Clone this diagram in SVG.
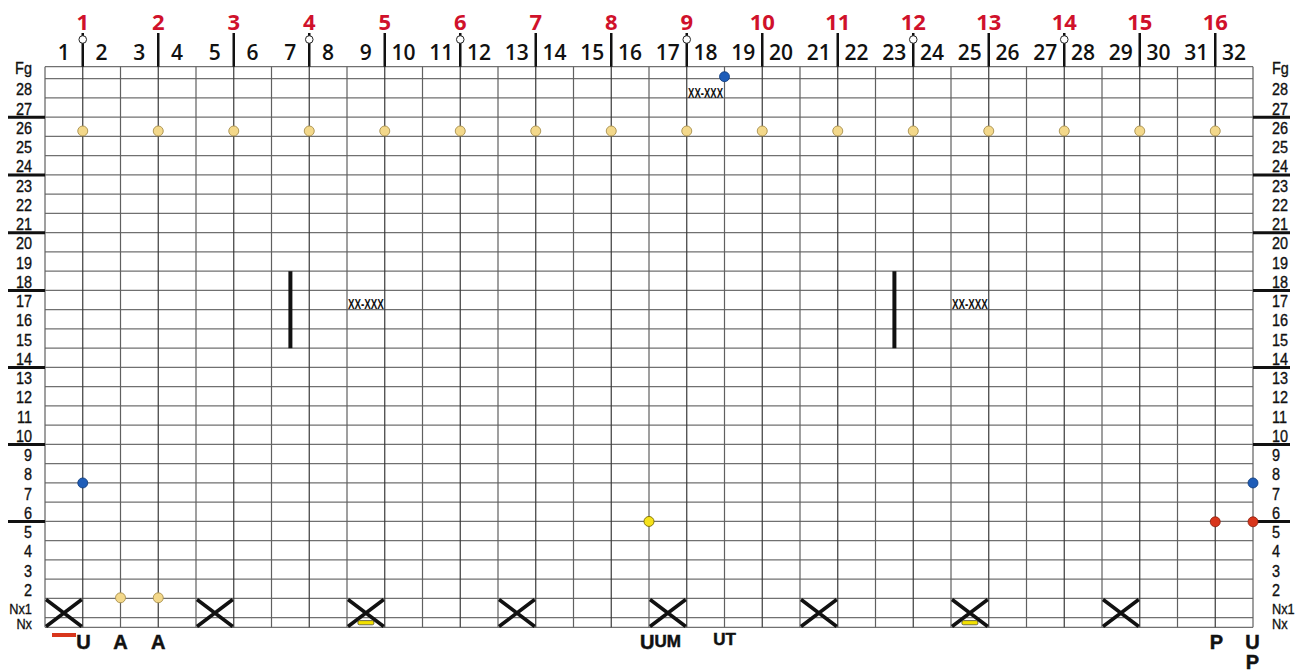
<svg xmlns="http://www.w3.org/2000/svg" width="1296" height="671" viewBox="0 0 1296 671">
<style>
.bg{fill:#ffffff}
.hl{stroke:#707070;stroke-width:1.3;fill:none}
.vl{stroke:#606060;stroke-width:1.2;fill:none}
.vm{stroke:#3a3a3a;stroke-width:1.2;fill:none}
.mk{stroke:#111;stroke-width:2.5;fill:none}
.tick{stroke:#111;stroke-width:3;fill:none}
.ring{fill:#fff;stroke:#222;stroke-width:1}
.col{font-family:"Open Sans","Liberation Sans",sans-serif;font-weight:600;font-size:21px;fill:#111;text-anchor:middle}
.red{font-family:"Open Sans","Liberation Sans",sans-serif;font-weight:700;font-size:22px;fill:#d0112b;text-anchor:middle}
.rl{font-family:"Liberation Sans",Arial,sans-serif;font-size:17px;fill:#111;stroke:#111;stroke-width:0.35}
.rs{font-size:15px}
.ydot{fill:#f3d88a;stroke:#a8904e;stroke-width:0.9}
.bdot{fill:#1f5db8;stroke:#0e3a7a;stroke-width:0.8}
.rdot{fill:#d8361c;stroke:#8a1e0c;stroke-width:0.8}
.sdot{fill:#f6e21a;stroke:#7a6c00;stroke-width:0.9}
.x{stroke:#111;stroke-width:3.5;fill:none}
.bar{stroke:#111;stroke-width:4;fill:none}
.ybar{fill:#f2e000;stroke:#333;stroke-width:0.7}
.code{font-family:"Liberation Sans",Arial,sans-serif;font-weight:700;font-size:15px;fill:#111;text-anchor:middle}
.bl{font-family:"Liberation Sans",Arial,sans-serif;font-weight:700;font-size:20px;fill:#111;stroke:#111;stroke-width:0.5;text-anchor:middle}
.bls{font-size:17px}
</style>
<rect class="bg" x="0" y="0" width="1296" height="671"/>

<g id="grid">
<path class="hl" d="M45 66.7H1253M45 78.7H1253M45 97.95H1253M45 117.2H1253M45 136.45H1253M45 155.7H1253M45 174.95H1253M45 194.2H1253M45 213.45H1253M45 232.7H1253M45 251.95H1253M45 271.2H1253M45 290.45H1253M45 309.7H1253M45 328.95H1253M45 348.2H1253M45 367.45H1253M45 386.7H1253M45 405.95H1253M45 425.2H1253M45 444.45H1253M45 463.7H1253M45 482.95H1253M45 502.2H1253M45 521.45H1253M45 540.7H1253M45 559.95H1253M45 579.2H1253M45 598.45H1253M45 617.7H1253M45 627.3H1253"/>
<path class="vl" d="M45 66.7V627.3M120.5 66.7V627.3M196 66.7V627.3M271.5 66.7V627.3M347 66.7V627.3M422.5 66.7V627.3M498 66.7V627.3M573.5 66.7V627.3M649 66.7V627.3M724.5 66.7V627.3M800 66.7V627.3M875.5 66.7V627.3M951 66.7V627.3M1026.5 66.7V627.3M1102 66.7V627.3M1177.5 66.7V627.3M1253 66.7V627.3"/>
<path class="vm" d="M82.75 66.7V627.3M158.25 66.7V627.3M233.75 66.7V627.3M309.25 66.7V627.3M384.75 66.7V627.3M460.25 66.7V627.3M535.75 66.7V627.3M611.25 66.7V627.3M686.75 66.7V627.3M762.25 66.7V627.3M837.75 66.7V627.3M913.25 66.7V627.3M988.75 66.7V627.3M1064.25 66.7V627.3M1139.75 66.7V627.3M1215.25 66.7V627.3"/>
</g>

<g id="row-ticks">
<path class="tick" d="M8 117.2H45M8 174.95H45M8 232.7H45M8 290.45H45M8 367.45H45M8 444.45H45M8 521.45H45"/>
<path class="tick" d="M1253 117.2H1290M1253 174.95H1290M1253 232.7H1290M1253 290.45H1290M1253 367.45H1290M1253 444.45H1290M1253 521.45H1290"/>
</g>

<g id="markers">
<path class="mk" d="M82.75 33V66.7M158.25 33V66.7M233.75 33V66.7M309.25 33V66.7M384.75 33V66.7M460.25 33V66.7M535.75 33V66.7M611.25 33V66.7M686.75 33V66.7M762.25 33V66.7M837.75 33V66.7M913.25 33V66.7M988.75 33V66.7M1064.25 33V66.7M1139.75 33V66.7M1215.25 33V66.7"/>
<circle class="ring" cx="82.75" cy="39.5" r="3.8"/>
<circle class="ring" cx="309.25" cy="39.5" r="3.8"/>
<circle class="ring" cx="460.25" cy="39.5" r="3.8"/>
<circle class="ring" cx="686.75" cy="39.5" r="3.8"/>
<circle class="ring" cx="913.25" cy="39.5" r="3.8"/>
<circle class="ring" cx="1064.25" cy="39.5" r="3.8"/>
</g>

<g id="red-numbers">
<text class="red" x="82.75" y="30">1</text>
<text class="red" x="158.25" y="30">2</text>
<text class="red" x="233.75" y="30">3</text>
<text class="red" x="309.25" y="30">4</text>
<text class="red" x="384.75" y="30">5</text>
<text class="red" x="460.25" y="30">6</text>
<text class="red" x="535.75" y="30">7</text>
<text class="red" x="611.25" y="30">8</text>
<text class="red" x="686.75" y="30">9</text>
<text class="red" x="762.25" y="30">10</text>
<text class="red" x="837.75" y="30">11</text>
<text class="red" x="913.25" y="30">12</text>
<text class="red" x="988.75" y="30">13</text>
<text class="red" x="1064.25" y="30">14</text>
<text class="red" x="1139.75" y="30">15</text>
<text class="red" x="1215.25" y="30">16</text>
</g>

<g id="column-numbers">
<text class="col" x="63.875" y="60">1</text>
<text class="col" x="101.625" y="60">2</text>
<text class="col" x="139.375" y="60">3</text>
<text class="col" x="177.125" y="60">4</text>
<text class="col" x="214.875" y="60">5</text>
<text class="col" x="252.625" y="60">6</text>
<text class="col" x="290.375" y="60">7</text>
<text class="col" x="328.125" y="60">8</text>
<text class="col" x="365.875" y="60">9</text>
<text class="col" x="403.625" y="60">10</text>
<text class="col" x="441.375" y="60">11</text>
<text class="col" x="479.125" y="60">12</text>
<text class="col" x="516.875" y="60">13</text>
<text class="col" x="554.625" y="60">14</text>
<text class="col" x="592.375" y="60">15</text>
<text class="col" x="630.125" y="60">16</text>
<text class="col" x="667.875" y="60">17</text>
<text class="col" x="705.625" y="60">18</text>
<text class="col" x="743.375" y="60">19</text>
<text class="col" x="781.125" y="60">20</text>
<text class="col" x="818.875" y="60">21</text>
<text class="col" x="856.625" y="60">22</text>
<text class="col" x="894.375" y="60">23</text>
<text class="col" x="932.125" y="60">24</text>
<text class="col" x="969.875" y="60">25</text>
<text class="col" x="1007.625" y="60">26</text>
<text class="col" x="1045.375" y="60">27</text>
<text class="col" x="1083.125" y="60">28</text>
<text class="col" x="1120.875" y="60">29</text>
<text class="col" x="1158.625" y="60">30</text>
<text class="col" x="1196.375" y="60">31</text>
<text class="col" x="1234.125" y="60">32</text>
</g>

<g id="row-labels-left" transform="scale(0.85,1)" text-anchor="end">
<text class="rl" x="37.6" y="74.5">Fg</text>
<text class="rl" x="37.6" y="95.5">28</text>
<text class="rl" x="37.6" y="114.75">27</text>
<text class="rl" x="37.6" y="134">26</text>
<text class="rl" x="37.6" y="153.25">25</text>
<text class="rl" x="37.6" y="172.5">24</text>
<text class="rl" x="37.6" y="191.75">23</text>
<text class="rl" x="37.6" y="211">22</text>
<text class="rl" x="37.6" y="230.25">21</text>
<text class="rl" x="37.6" y="249.5">20</text>
<text class="rl" x="37.6" y="268.75">19</text>
<text class="rl" x="37.6" y="288">18</text>
<text class="rl" x="37.6" y="307.25">17</text>
<text class="rl" x="37.6" y="326.5">16</text>
<text class="rl" x="37.6" y="345.75">15</text>
<text class="rl" x="37.6" y="365">14</text>
<text class="rl" x="37.6" y="384.25">13</text>
<text class="rl" x="37.6" y="403.5">12</text>
<text class="rl" x="37.6" y="422.75">11</text>
<text class="rl" x="37.6" y="442">10</text>
<text class="rl" x="37.6" y="461.25">9</text>
<text class="rl" x="37.6" y="480.5">8</text>
<text class="rl" x="37.6" y="499.75">7</text>
<text class="rl" x="37.6" y="519">6</text>
<text class="rl" x="37.6" y="538.25">5</text>
<text class="rl" x="37.6" y="557.5">4</text>
<text class="rl" x="37.6" y="576.75">3</text>
<text class="rl" x="37.6" y="596">2</text>
<text class="rl rs" x="37.6" y="614.5">Nx1</text>
<text class="rl rs" x="37.6" y="629.5">Nx</text>
</g>

<g id="row-labels-right" transform="scale(0.85,1)" text-anchor="start">
<text class="rl" x="1496.5" y="74.5">Fg</text>
<text class="rl" x="1496.5" y="95.5">28</text>
<text class="rl" x="1496.5" y="114.75">27</text>
<text class="rl" x="1496.5" y="134">26</text>
<text class="rl" x="1496.5" y="153.25">25</text>
<text class="rl" x="1496.5" y="172.5">24</text>
<text class="rl" x="1496.5" y="191.75">23</text>
<text class="rl" x="1496.5" y="211">22</text>
<text class="rl" x="1496.5" y="230.25">21</text>
<text class="rl" x="1496.5" y="249.5">20</text>
<text class="rl" x="1496.5" y="268.75">19</text>
<text class="rl" x="1496.5" y="288">18</text>
<text class="rl" x="1496.5" y="307.25">17</text>
<text class="rl" x="1496.5" y="326.5">16</text>
<text class="rl" x="1496.5" y="345.75">15</text>
<text class="rl" x="1496.5" y="365">14</text>
<text class="rl" x="1496.5" y="384.25">13</text>
<text class="rl" x="1496.5" y="403.5">12</text>
<text class="rl" x="1496.5" y="422.75">11</text>
<text class="rl" x="1496.5" y="442">10</text>
<text class="rl" x="1496.5" y="461.25">9</text>
<text class="rl" x="1496.5" y="480.5">8</text>
<text class="rl" x="1496.5" y="499.75">7</text>
<text class="rl" x="1496.5" y="519">6</text>
<text class="rl" x="1496.5" y="538.25">5</text>
<text class="rl" x="1496.5" y="557.5">4</text>
<text class="rl" x="1496.5" y="576.75">3</text>
<text class="rl" x="1496.5" y="596">2</text>
<text class="rl rs" x="1496.5" y="614.5">Nx1</text>
<text class="rl rs" x="1496.5" y="629.5">Nx</text>
</g>

<g id="row26-dots">
<circle class="ydot" cx="82.75" cy="131" r="5"/>
<circle class="ydot" cx="158.25" cy="131" r="5"/>
<circle class="ydot" cx="233.75" cy="131" r="5"/>
<circle class="ydot" cx="309.25" cy="131" r="5"/>
<circle class="ydot" cx="384.75" cy="131" r="5"/>
<circle class="ydot" cx="460.25" cy="131" r="5"/>
<circle class="ydot" cx="535.75" cy="131" r="5"/>
<circle class="ydot" cx="611.25" cy="131" r="5"/>
<circle class="ydot" cx="686.75" cy="131" r="5"/>
<circle class="ydot" cx="762.25" cy="131" r="5"/>
<circle class="ydot" cx="837.75" cy="131" r="5"/>
<circle class="ydot" cx="913.25" cy="131" r="5"/>
<circle class="ydot" cx="988.75" cy="131" r="5"/>
<circle class="ydot" cx="1064.25" cy="131" r="5"/>
<circle class="ydot" cx="1139.75" cy="131" r="5"/>
<circle class="ydot" cx="1215.25" cy="131" r="5"/>
</g>

<g id="top-blue">
<circle class="bdot" cx="724.5" cy="76.7" r="5"/>
<text class="code" x="705.6" y="97.5" textLength="35" lengthAdjust="spacingAndGlyphs">XX-XXX</text>
</g>

<g id="bar-left">
<path class="bar" d="M290.4 271.2V348.2"/>
<text class="code" x="365.9" y="308.5" textLength="36" lengthAdjust="spacingAndGlyphs">XX-XXX</text>
</g>

<g id="bar-right">
<path class="bar" d="M894.4 271.2V348.2"/>
<text class="code" x="969.9" y="308.5" textLength="36" lengthAdjust="spacingAndGlyphs">XX-XXX</text>
</g>

<g id="side-dots">
<circle class="bdot" cx="82.75" cy="482.95" r="5"/>
<circle class="bdot" cx="1253" cy="482.95" r="5"/>
<circle class="sdot" cx="649" cy="521.45" r="5"/>
<circle class="rdot" cx="1215.25" cy="521.8" r="5"/>
<circle class="rdot" cx="1253" cy="521.8" r="5"/>
<circle class="ydot" cx="120.5" cy="597.8" r="5"/>
<circle class="ydot" cx="158.25" cy="597.8" r="5"/>
</g>

<g id="crosses">
<path class="x" d="M46 599.5L81.75 626.5M81.75 599.5L46 626.5"/>
<path class="x" d="M197 599.5L232.75 626.5M232.75 599.5L197 626.5"/>
<path class="x" d="M348 599.5L383.75 626.5M383.75 599.5L348 626.5"/>
<path class="x" d="M499 599.5L534.75 626.5M534.75 599.5L499 626.5"/>
<path class="x" d="M650 599.5L685.75 626.5M685.75 599.5L650 626.5"/>
<path class="x" d="M801 599.5L836.75 626.5M836.75 599.5L801 626.5"/>
<path class="x" d="M952 599.5L987.75 626.5M987.75 599.5L952 626.5"/>
<path class="x" d="M1103 599.5L1138.75 626.5M1138.75 599.5L1103 626.5"/>
<rect class="ybar" x="357.9" y="620.6" width="16" height="4.2" rx="1.5"/>
<rect class="ybar" x="961.9" y="620.6" width="16" height="4.2" rx="1.5"/>
</g>

<g id="bottom-labels">
<path d="M52 635H76" stroke="#d8361c" stroke-width="4"/>
<text class="bl" x="83.5" y="649">U</text>
<text class="bl" x="120.5" y="649">A</text>
<text class="bl" x="158.25" y="649">A</text>
<text class="bl" x="660.5" y="649" textLength="41" lengthAdjust="spacingAndGlyphs">U<tspan class="bls" dy="-2">UM</tspan></text>
<text class="bl bls" x="724.5" y="645">UT</text>
<text class="bl" x="1216.5" y="649">P</text>
<text class="bl" x="1252.5" y="649">U</text>
<text class="bl" x="1252.5" y="669">P</text>
</g>
</svg>
